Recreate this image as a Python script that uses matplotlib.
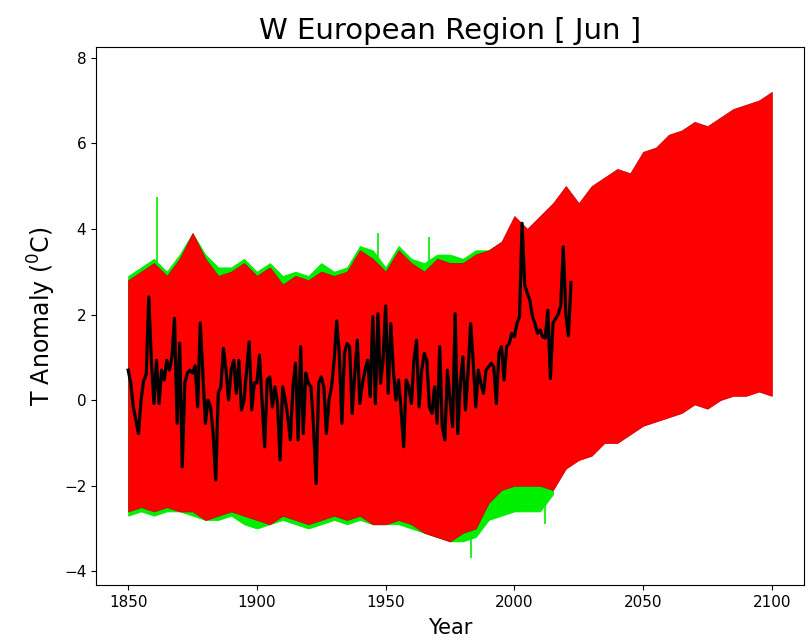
import numpy as np
import matplotlib
matplotlib.use("Agg")
import matplotlib.pyplot as plt

# ensemble envelopes, read every 5 years
env_years = list(range(1850, 2101, 5))
red_hi = [2.8, 3.0, 3.2, 2.9, 3.3, 3.9, 3.3, 2.9, 3.0, 3.2,
          2.9, 3.1, 2.7, 2.9, 2.8, 3.0, 2.9, 3.0, 3.5, 3.3,
          3.0, 3.5, 3.2, 3.0, 3.3, 3.2, 3.2, 3.4, 3.5, 3.7,
          4.3, 4.0, 4.3, 4.6, 5.0, 4.6, 5.0, 5.2, 5.4, 5.3,
          5.8, 5.9, 6.2, 6.3, 6.5, 6.4, 6.6, 6.8, 6.9, 7.0, 7.2]
red_lo = [-2.6, -2.5, -2.6, -2.5, -2.6, -2.6, -2.8, -2.7, -2.6, -2.7,
          -2.8, -2.9, -2.7, -2.8, -2.9, -2.8, -2.7, -2.8, -2.7, -2.9,
          -2.9, -2.8, -2.9, -3.1, -3.2, -3.3, -3.1, -3.0, -2.4, -2.1,
          -2.0, -2.0, -2.0, -2.1, -1.6, -1.4, -1.3, -1.0, -1.0, -0.8,
          -0.6, -0.5, -0.4, -0.3, -0.1, -0.2, 0.0, 0.1, 0.1, 0.2, 0.1]

# historical runs, only where they poke out of the red
hist_years = list(range(1850, 2016, 5))
green_hi = [2.9, 3.1, 3.3, 3.0, 3.4, 3.9, 3.4, 3.1, 3.1, 3.3,
            3.0, 3.2, 2.9, 3.0, 2.9, 3.2, 3.0, 3.1, 3.6, 3.5,
            3.1, 3.6, 3.3, 3.2, 3.4, 3.4, 3.3, 3.5, 3.5, 3.7,
            4.0, 3.9, 4.0, 3.9]
green_lo = [-2.7, -2.6, -2.7, -2.6, -2.6, -2.7, -2.8, -2.8, -2.7, -2.9,
            -3.0, -2.9, -2.8, -2.9, -3.0, -2.9, -2.8, -2.9, -2.8, -2.9,
            -2.9, -2.9, -3.0, -3.1, -3.2, -3.3, -3.3, -3.2, -2.8, -2.7,
            -2.6, -2.6, -2.6, -2.2]
# single-year green spikes
spike_years = [1861, 1947, 1967, 1983, 2012]
spike_vals = [4.75, 3.9, 3.8, -3.7, -2.9]

# observed June anomaly, 1850 onwards
obs = [0.70, 0.40, -0.16, -0.47, -0.78, 0.00, 0.45, 0.60, 2.41, 0.93,
       -0.08, 0.93, -0.08, 0.70, 0.47, 0.93, 0.70, 1.01, 1.91, -0.54,
       1.33, -1.56, 0.40, 0.63, 0.70, 0.63, 0.80, -0.16, 1.80, 0.63,
       -0.54, 0.00, -0.16, -0.78, -1.87, 0.16, 0.31, 1.21, 0.70, 0.00,
       0.70, 0.93, 0.16, 0.93, -0.23, 0.00, 0.70, 1.36, -0.23, 0.40,
       0.40, 1.05, 0.00, -1.09, 0.47, 0.54, -0.16, 0.31, -0.08, -1.40,
       0.31, 0.00, -0.39, -0.93, 0.31, 0.86, -0.93, 1.25, -0.78, 0.63,
       0.39, 0.31, -0.62, -1.95, 0.39, 0.54, 0.31, -0.78, 0.00, 0.31,
       0.93, 1.85, 1.09, -0.54, 1.09, 1.32, 1.25, -0.31, 0.60, 1.40,
       -0.08, 0.39, 0.70, 0.93, 0.08, 1.95, -0.08, 2.02, 0.39, 0.93,
       2.20, 0.16, 1.79, 0.70, 0.00, 0.47, -0.23, -1.09, 0.47, 0.31,
       -0.08, 0.93, 1.40, -0.16, 0.70, 1.09, 0.93, -0.16, -0.31, 0.31,
       -0.54, 1.25, -0.62, -0.93, 0.70, 0.00, -0.62, 2.02, -0.78, 0.39,
       1.01, -0.23, 0.63, 1.79, 0.93, -0.16, 0.70, 0.39, 0.16, 0.70,
       0.78, 0.86, 0.78, -0.08, 1.09, 1.25, 0.47, 1.25, 1.32, 1.56,
       1.48, 1.79, 1.95, 4.13, 2.70, 2.50, 2.34, 1.95, 1.79, 1.56,
       1.64, 1.48, 1.45, 2.10, 0.50, 1.80, 1.90, 2.00, 2.20, 3.58,
       2.00, 1.50, 2.75]
obs_years = np.arange(1850, 1850 + len(obs))

fig = plt.figure(figsize=(8.08, 6.41), dpi=100)
ax = fig.add_axes([96 / 808, 1 - 585 / 641, (804 - 96) / 808, (585 - 47) / 641])

# green first, red on top, observations over everything
ax.fill_between(hist_years, green_lo, green_hi, color="#00ee00", lw=0.6, zorder=1)
ax.vlines(spike_years, 0, spike_vals, color="#00ee00", lw=1.2, zorder=1)
ax.fill_between(env_years, red_lo, red_hi, facecolor="red", edgecolor="#d00000",
                lw=0.6, zorder=2)
ax.plot(obs_years, obs, color="black", lw=2.3, zorder=3)

ax.set_xlim(1837.5, 2112.5)
ax.set_ylim(-4.32, 8.25)
ax.set_xticks([1850, 1900, 1950, 2000, 2050, 2100])
ax.set_yticks([-4, -2, 0, 2, 4, 6, 8])
ax.tick_params(labelsize=11)

ax.set_title("W European Region [ Jun ]", fontsize=21)
ax.set_xlabel("Year", fontsize=15, labelpad=6)
ax.set_ylabel("T Anomaly ($^0$C)", fontsize=17)

plt.savefig("out.png", dpi=100)
